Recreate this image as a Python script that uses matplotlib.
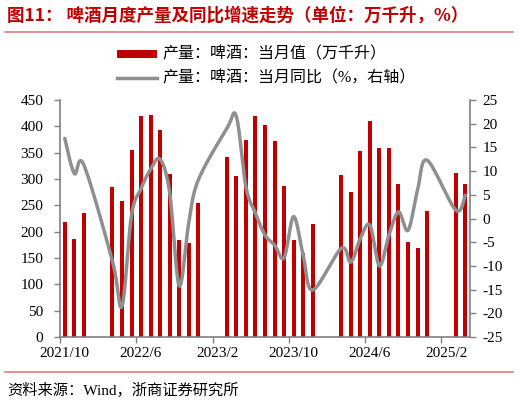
import numpy as np
import matplotlib
matplotlib.use('Agg')
import matplotlib.pyplot as plt
from matplotlib.lines import Line2D
from matplotlib.patches import Rectangle

plt.rcParams['axes.unicode_minus'] = False
nan = np.nan

# ---- data ----
months = []
for y, m0, m1 in [(2021, 10, 12), (2022, 1, 12), (2023, 1, 12), (2024, 1, 12), (2025, 1, 4)]:
    for m in range(m0, m1 + 1):
        months.append(f"{y}/{m}")

production = [218, 187, 236, nan, nan,
              284, 258, 356, 419, 421, 393, 310, 185, 178, 254, nan, nan,
              342, 305, 374, 419, 402, 373, 286, 184, 159, 215, nan, nan,
              307, 276, 353, 411, 358, 358, 290, 181, 169, 240, nan, nan,
              312, 290]
yoy = [16.9, 9.5, 11.3, nan, nan,
       -9.0, -18.5, 0.7, 6.3, 10.4, 12.5, 5.5, -14.2, -1.0, 8.1, nan, nan,
       19.0, 21.5, 6.7, 1.1, -3.5, -5.6, -8.3, 0.4, -7.7, -15.1, nan, nan,
       -6.3, -9.2, -4.2, -1.4, -10.0, -3.5, 1.4, -2.5, 6.0, 12.3, nan, nan,
       1.8, 4.9]
label_every = 8

title = "图11： 啤酒月度产量及同比增速走势（单位：万千升，%）"
legend_bar = "产量：啤酒：当月值（万千升）"
legend_line = "产量：啤酒：当月同比（%，右轴）"
source = "资料来源：Wind，浙商证券研究所"

RED = '#C00000'
GRAY = '#8F8F8F'
AXC = '#808080'
CJK = ['Liberation Serif', 'Noto Sans CJK SC']


def catmull_rom(xs, ys, n=20):
    P = np.column_stack([xs, ys])
    P = np.vstack([P[0], P, P[-1]])
    out = []
    for k in range(1, len(P) - 2):
        p0, p1, p2, p3 = P[k - 1], P[k], P[k + 1], P[k + 2]
        c1 = p1 + (p2 - p0) / 6.0
        c2 = p2 - (p3 - p1) / 6.0
        t = np.linspace(0, 1, n)[:, None]
        seg = ((1 - t) ** 3) * p1 + 3 * ((1 - t) ** 2) * t * c1 + 3 * (1 - t) * t ** 2 * c2 + t ** 3 * p2
        out.append(seg if k == 1 else seg[1:])
    S = np.vstack(out)
    return S[:, 0], S[:, 1]


W, H = 520, 403
fig = plt.figure(figsize=(W / 100, H / 100), dpi=100)
ax = fig.add_axes([60 / W, 1 - 337 / H, 410 / W, 237 / H])
ax2 = ax.twinx()

x = np.arange(len(months))
prod = np.array(production, dtype=float)
ax.bar(x, prod, width=0.42, color=RED, zorder=2)

yv = np.array(yoy, dtype=float)
mask = ~np.isnan(yv)
sx, sy = catmull_rom(x[mask].astype(float), yv[mask])
ax2.plot(sx, sy, color=GRAY, lw=2.5, solid_capstyle='round', zorder=3)

ax.set_xlim(-0.5, len(months) - 0.5)
ax.set_ylim(0, 450)
ax.set_yticks(np.arange(0, 451, 50))
ax2.set_ylim(-25, 25)
ax2.set_yticks(np.arange(-25, 26, 5))

centers = x[::label_every]
bounds = centers - 0.5
ax.set_xticks(bounds)
ax.set_xticklabels([])
ax.set_xticks(centers, minor=True)
ax.set_xticklabels([months[i] for i in centers], minor=True)
ax.tick_params(axis='x', which='major', length=4, width=1, color=AXC, direction='out')
ax.tick_params(axis='x', which='minor', length=0, pad=7, labelsize=11)

for a in (ax, ax2):
    for s in a.spines.values():
        s.set_visible(False)
ax.spines['left'].set_visible(True)
ax.spines['bottom'].set_visible(True)
ax2.spines['right'].set_visible(True)
for s in (ax.spines['left'], ax.spines['bottom'], ax2.spines['right']):
    s.set_color(AXC)
    s.set_linewidth(1.2)

ax.tick_params(axis='y', length=4, width=1, color=AXC, pad=8, labelsize=11)
ax2.tick_params(axis='y', length=4, width=1, color=AXC, pad=5, labelsize=11)
for lab in ax.get_xticklabels(minor=True) + ax.get_yticklabels() + ax2.get_yticklabels():
    lab.set_fontfamily('Liberation Serif')

# title and rules
fig.text(7 / W, 1 - 16 / H, title, color=RED, fontsize=12.6, fontweight='bold',
         family=['Noto Sans CJK SC', 'DejaVu Sans'], va='center', ha='left')
fig.add_artist(Line2D([5 / W, 513 / W], [1 - 32 / H, 1 - 32 / H], color='#E07C7C', lw=1.2))
fig.add_artist(Line2D([5 / W, 513 / W], [1 - 372 / H, 1 - 372 / H], color='#E07C7C', lw=1.2))
fig.text(7 / W, 1 - 390 / H, source, fontsize=11, family=CJK, va='center', ha='left')

# legend (drawn manually for exact placement)
fig.add_artist(Rectangle((117 / W, 1 - 58 / H), 40 / W, 8 / H, facecolor=RED,
                         edgecolor='none', transform=fig.transFigure))
fig.add_artist(Line2D([117 / W, 157 / W], [1 - 78 / H, 1 - 78 / H], color=GRAY, lw=2.5))
fig.text(162 / W, 1 - 54 / H, legend_bar, fontsize=11.5, family=CJK, va='center', ha='left')
fig.text(162 / W, 1 - 78 / H, legend_line, fontsize=11.5, family=CJK, va='center', ha='left')

fig.savefig('out.png', dpi=100)
